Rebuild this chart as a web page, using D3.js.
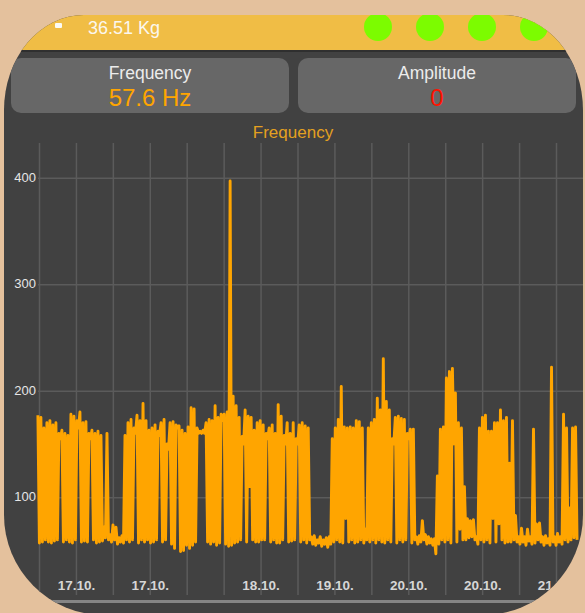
<!DOCTYPE html>
<html><head><meta charset="utf-8">
<script src="https://cdn.jsdelivr.net/npm/d3@7"></script>
<style>html,body{margin:0;padding:0;background:#e4c19d;} svg{display:block}</style>
</head><body><svg id="c" width="585" height="613"></svg>
<script>
// ---- data ----
const weightText = "36.51 Kg";
const statusLights = [1, 1, 1, 1];
const statLabels = ["Frequency", "Amplitude"];
const statValues = ["57.6 Hz", "0"];
const chartTitle = "Frequency";
const yTicks = [100, 200, 300, 400];
const xTickLabels = ["", "17.10.", "", "17.10.", "", "", "18.10.", "", "19.10.", "", "20.10.", "", "20.10.", "", "21.10."];
// time span of the series in grid units (one unit per vertical grid line)
const tStart = -0.03, tEnd = 14.57;
// frequency samples (Hz), in time order
const freq = [
177,57, 175,58, 165,60, 170,58, 172,57, 168,59, 170,60, 160,155, 163,58, 160,60,
158,58, 178,57, 176,60, 172,165, 180,58, 170,59, 171,58, 160,155, 163,60, 160,57,
162,58, 158,59, 72,62, 160,60, 65,58, 74,60, 72,56, 62,58, 64,57, 158,60,
170,58, 173,60, 165,160, 177,57, 172,60, 188,58, 172,60, 163,57, 165,58, 168,60,
162,158, 170,58, 173,60, 150,145, 170,56, 171,52, 168,165, 167,49, 163,50, 160,55,
166,52, 184,55, 183,58, 165,160, 162,160, 163,160, 170,58, 173,56, 172,58, 186,55,
175,57, 178,172, 178,56, 180,54, 397,55, 195,57, 186,58, 175,60, 157,150, 182,58,
176,110, 175,60, 163,58, 170,58, 172,60, 168,60, 160,155, 165,58, 168,60, 160,57,
187,57, 176,60, 158,150, 170,58, 160,59, 170,60, 155,150, 168,58, 170,60, 167,57,
165,60, 63,56, 64,55, 60,57, 63,54, 60,56, 62,53, 63,56, 155,58, 165,60,
173,58, 204,57, 166,80, 165,58, 166,60, 165,57, 172,58, 171,60, 165,57, 70,60,
165,58, 170,60, 173,57, 193,60, 182,58, 230,57, 190,60, 182,58, 155,150, 175,57,
176,60, 174,58, 173,60, 160,155, 164,57, 164,60, 63,56, 64,58, 78,60, 65,56,
63,57, 61,55, 61,47, 120,56, 164,60, 166,58, 212,60, 218,57, 221,150, 198,58,
170,70, 165,60, 110,60, 80,62, 78,63, 79,60, 63,56, 165,60, 175,58, 177,60,
162,57, 162,80, 170,58, 170,75, 182,60, 172,57, 175,58, 132,58, 172,60, 83,58,
63,56, 71,58, 63,55, 70,59, 63,56, 164,57, 75,60, 76,58, 63,55, 64,57,
61,55, 222,58, 63,55, 66,58, 63,56, 178,60, 165,58, 90,60, 165,62, 166,60
];

// ---- layout ----
const W = 585, H = 613;
const svg = d3.select("#c");
const font = "'Liberation Sans', Arial, Helvetica, sans-serif";

svg.append("rect").attr("width", W).attr("height", H).attr("fill", "#e4c19d");

const framePath = "M4,110 A80,95 0 0 1 84,15 L503,15 A80,95 0 0 1 583,110 L583,515 A100,100 0 0 1 483,615 L104,615 A100,100 0 0 1 4,515 Z";
svg.append("clipPath").attr("id", "frame").append("path").attr("d", framePath);

const g = svg.append("g").attr("clip-path", "url(#frame)");
g.append("rect").attr("width", W).attr("height", H).attr("fill", "#414141");

// header bar
g.append("rect").attr("x", 0).attr("y", 0).attr("width", W).attr("height", 50).attr("fill", "#f0bd45");
g.append("rect").attr("x", 0).attr("y", 50).attr("width", W).attr("height", 2).attr("fill", "#2f2f2f");
g.append("rect").attr("x", 55).attr("y", 23).attr("width", 7).attr("height", 5).attr("rx", 1).attr("fill", "#fbfbf5");
g.append("text").attr("x", 88).attr("y", 33.5).attr("font-family", font).attr("font-size", 18)
  .attr("fill", "#fbf7ee").text(weightText);
g.selectAll("circle.light").data(statusLights).enter().append("circle")
  .attr("class", "light")
  .attr("cx", (d, i) => 378 + i * 52).attr("cy", 27).attr("r", 14)
  .attr("fill", "#7cfc00");

// stat panels
const panels = g.selectAll("g.panel").data(statLabels).enter().append("g")
  .attr("class", "panel").attr("transform", (d, i) => `translate(${11 + i * 287},58)`);
panels.append("rect").attr("width", 278).attr("height", 55).attr("rx", 10).attr("fill", "#676767");
panels.append("text").attr("x", 139).attr("y", 21).attr("text-anchor", "middle")
  .attr("font-family", font).attr("font-size", 17.5).attr("fill", "#ececec").text(d => d);
panels.append("text").attr("x", 139).attr("y", 48).attr("text-anchor", "middle")
  .attr("font-family", font).attr("font-size", 24)
  .attr("fill", (d, i) => i === 0 ? "#ffa500" : "#ff1200").text((d, i) => statValues[i]);

// chart title
g.append("text").attr("x", 293).attr("y", 138).attr("text-anchor", "middle")
  .attr("font-family", font).attr("font-size", 17).attr("fill", "#e4a020").text(chartTitle);

// scales
const x = d3.scaleLinear().domain([0, 14]).range([39, 556]);
const y = d3.scaleLinear().domain([0, 400]).range([603.8, 177.7]);

// vertical grid + x labels
const xAxis = d3.axisBottom(x).tickValues(d3.range(xTickLabels.length))
  .tickSize(-(595 - 143)).tickPadding(-15).tickFormat(d => xTickLabels[d]);
const gx = g.append("g").attr("transform", "translate(0,595)").call(xAxis);
gx.select(".domain").remove();
gx.selectAll(".tick line").attr("stroke", "#5b5b5b").attr("stroke-width", 1.5);
gx.selectAll(".tick text").attr("font-family", font).attr("font-size", 13.5)
  .attr("font-weight", "bold").attr("fill", "#d6d6d6");

// horizontal grid + y labels
const yAxis = d3.axisLeft(y).tickValues(yTicks).tickSize(-(585 - 38)).tickPadding(2);
const gy = g.append("g").attr("transform", "translate(38,0)").call(yAxis);
gy.select(".domain").remove();
gy.selectAll(".tick line").attr("stroke", "#5b5b5b").attr("stroke-width", 1.5);
gy.selectAll(".tick text").attr("font-family", font).attr("font-size", 13)
  .attr("fill", "#e6e6e6").attr("dy", "0.28em");

// series
const tOf = i => tStart + i * (tEnd - tStart) / (freq.length - 1);
const line = d3.line().x((d, i) => x(tOf(i))).y(d => y(d));
g.append("path").datum(freq).attr("d", line).attr("fill", "none")
  .attr("stroke", "#ffa500").attr("stroke-width", 2.9).attr("stroke-linejoin", "round");

// bottom scroll bar
g.append("line").attr("x1", 50).attr("x2", 575).attr("y1", 601.5).attr("y2", 601.5)
  .attr("stroke", "#858585").attr("stroke-width", 3);
</script></body></html>
